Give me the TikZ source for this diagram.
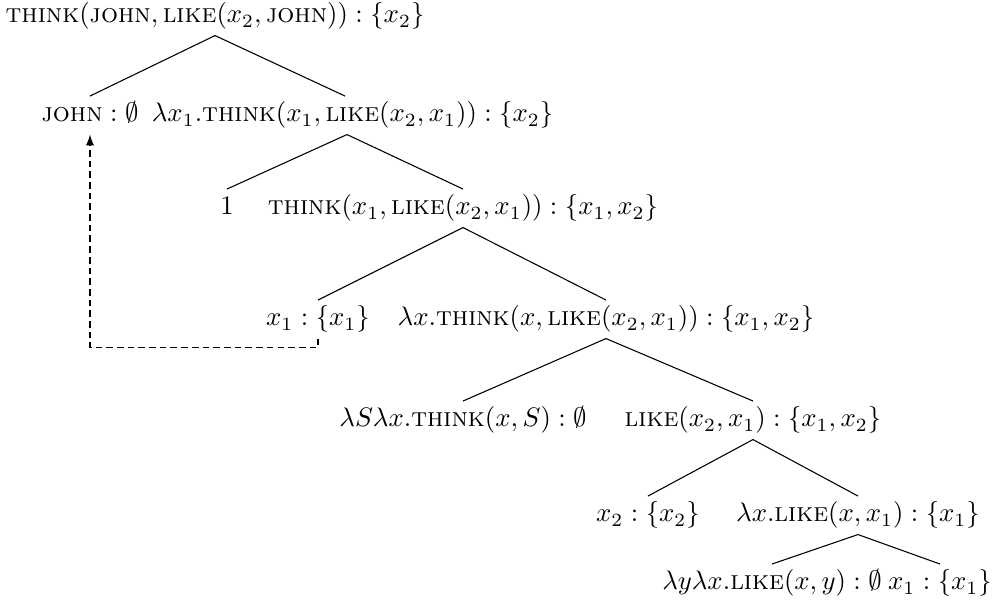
\documentclass[tikz,border=0pt]{standalone}
\usepackage{amsmath}
\usepackage{amssymb}
\usepackage{tikz}
\usetikzlibrary{arrows,calc}

\begin{document}
\begin{tikzpicture}[thin, x=0.01314cm, y=-0.01314cm,
  lbl/.style={inner sep=2pt, anchor=base, text height=7.5pt, text depth=2.5pt}]
\useasboundingbox (0,0) rectangle (995,602);
%%%%% Labels %%%%%
\node[lbl] (root) at (215,23) {$\textsc{think}(\textsc{john}, \textsc{like}(x_2, \textsc{john})) : \{x_2\}$};
\node[lbl] (john) at (90,122) {$\textsc{john} : \emptyset$};
\node[lbl, anchor=base west] (lamA) at (146,122) {$\lambda x_1.\textsc{think}(x_1, \textsc{like}(x_2, x_1)) : \{x_2\}$};
\node[lbl] (one) at (227,215) {$1$};
\node[lbl] (thinkA) at (463,215) {$\textsc{think}(x_1, \textsc{like}(x_2, x_1)) : \{x_1, x_2\}$};
\node[lbl] (xone) at (318,326) {$x_1 : \{x_1\}$};
\node[lbl] (lamB) at (606,326) {$\lambda x.\textsc{think}(x, \textsc{like}(x_2, x_1)) : \{x_1, x_2\}$};
\node[lbl] (lamS) at (463,427) {$\lambda S \lambda x.\textsc{think}(x, S) : \emptyset$};
\node[lbl] (likeA) at (753,427) {$\textsc{like}(x_2, x_1) : \{x_1, x_2\}$};
\node[lbl] (xtwo) at (648,522) {$x_2 : \{x_2\}$};
\node[lbl] (lamC) at (858,522) {$\lambda x.\textsc{like}(x, x_1) : \{x_1\}$};
\node[lbl] (lamY) at (772,590) {$\lambda y \lambda x.\textsc{like}(x, y) : \emptyset$};
\node[lbl] (xoneB) at (940,590) {$x_1 : \{x_1\}$};
%%%%% Branches %%%%%
\draw (root.south) -- (john.north);
\draw (root.south) -- ($(lamA.north west)+(199,0)$);
\draw (one.north) -- ($(lamA.south west)+(201,0)$) -- (thinkA.north);
\foreach \p/\c in {thinkA/xone, thinkA/lamB, lamB/lamS, lamB/likeA, likeA/xtwo, likeA/lamC, lamC/lamY, lamC/xoneB}{
\draw (\p.south) -- (\c.north);
}
%%%%% Movement %%%%%
\draw[dash pattern=on 2.5pt off 1.5pt, -latex] (xone.south) -- ++(0,9) -| (john.south);
\end{tikzpicture}
\end{document}
